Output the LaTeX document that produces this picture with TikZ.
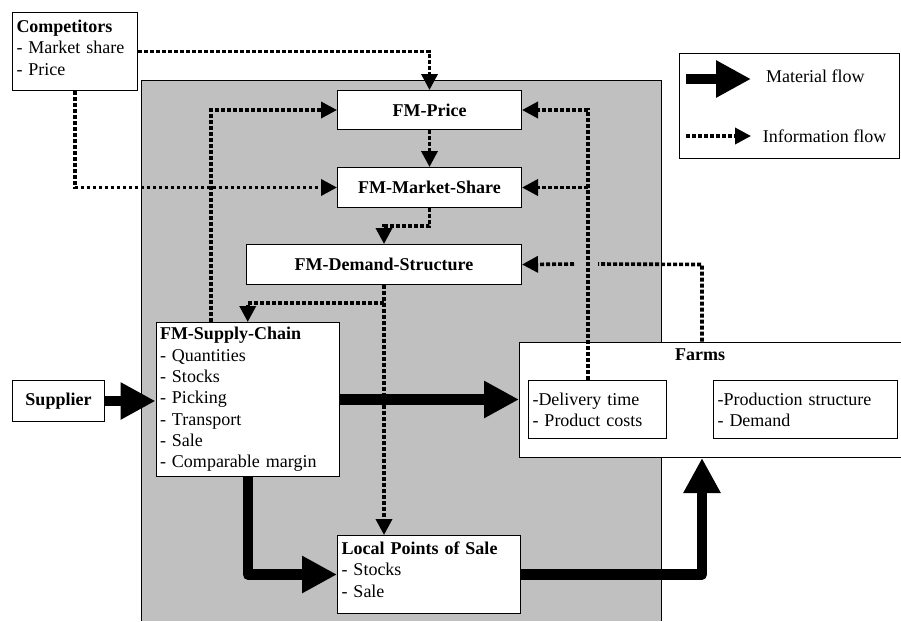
\documentclass[tikz,border=0pt]{standalone}
\usepackage{fontspec}
\setmainfont{Liberation Serif}
\usetikzlibrary{arrows.meta}
\definecolor{panel}{RGB}{192,192,192}
\begin{document}
\begin{tikzpicture}[x=1pt,y=-1pt,
  every node/.style={font=\fontsize{18}{21.3}\selectfont},
  frame/.style={draw, line width=1pt, fill=white, anchor=north west, inner sep=0pt},
  listbox/.style={frame, align=left, inner xsep=4pt, inner ysep=0pt},
  titlebox/.style={frame, font=\fontsize{18}{21.3}\selectfont\bfseries},
  matflow/.style={line width=10.5pt, line join=round, -{Triangle[length=35pt,width=35pt]}},
  infoline/.style={line width=3.6pt, dash pattern=on 3.8pt off 2.2pt},
  infoflow/.style={infoline, -{Triangle[length=16pt,width=16pt]}},
]
\useasboundingbox (0,0) rectangle (901,621);

% shaded company panel (open at the bottom)
\fill[panel] (141.7,80.7) rectangle (661.7,621);
\draw[line width=1pt] (141.7,621) -- (141.7,80.7) -- (661.7,80.7) -- (661.7,621);

% boxes
\node[listbox, text width=117pt, minimum height=78pt] (comp) at (12,12)
  {\textbf{Competitors}\\- Market share\\- Price\rule[-8pt]{0pt}{8pt}};
\node[titlebox, minimum width=184pt, minimum height=39pt] (price) at (337,90) {FM-Price};
\node[titlebox, minimum width=184pt, minimum height=40pt] (mshare) at (337,167) {FM-Market-Share};
\node[titlebox, minimum width=275pt, minimum height=40pt] (demand) at (246,244) {FM-Demand-Structure};
\node[listbox, text width=175.5pt, minimum height=154pt] (supply) at (155.5,322)
  {\textbf{FM-Supply-Chain}\\- Quantities\\- Stocks\\- Picking\\- Transport\\- Sale\\- Comparable margin};
\node[titlebox, minimum width=92pt, minimum height=41pt] (supplier) at (12,380) {Supplier};
\node[listbox, text width=175pt, minimum height=78pt] (lps) at (337,535)
  {\textbf{Local Points of Sale}\\- Stocks\\- Sale\rule[-10pt]{0pt}{10pt}};
\node[frame, minimum width=383pt, minimum height=115.5pt] (farms) at (519,341.5) {};
\node[font=\fontsize{18}{21.3}\selectfont\bfseries] (farmstitle) at (700,355) {Farms};
\node[listbox, text width=130pt, minimum height=58pt] (deliv) at (528,380)
  {-Delivery time\\- Product costs};
\node[listbox, text width=176pt, minimum height=58pt] (prod) at (713,380)
  {-Production structure\\- Demand};

% legend
\node[frame, minimum width=220pt, minimum height=105pt] (legend) at (679,53) {};
\coordinate (mfa) at (686,79);
\coordinate (mfb) at (751,79);
\coordinate (ifa) at (686,136);
\coordinate (ifb) at (751,136);
\draw[matflow] (mfa) -- (mfb);
\draw[infoflow] (ifa) -- (ifb);
\node[anchor=west, inner sep=0pt] (mflabel) at (766,76) {Material flow};
\node[anchor=west, inner sep=0pt] (iflabel) at (762.7,136) {Information flow};

% material flows
\coordinate (lpsout) at ([xshift=183pt]farms.south west);
\draw[matflow] (supplier.east) -- (supplier.east -| supply.west);
\draw[matflow] (supply.east) -- (supply.east -| farms.west);
\draw[matflow] (supply.south) |- (lps.west);
\draw[matflow] (lps.east) -| (lpsout);

% information flows
\coordinate (sctap) at ([xshift=55.5pt]supply.north west);
\coordinate (dltap) at ([xshift=60pt]deliv.north west);
\coordinate (fmtap) at ([xshift=183pt]farms.north west);
\coordinate (gapR) at (598,264);
\coordinate (gapL) at (574,264);
\draw[infoflow] (comp.east) -- (comp.east -| price.north) -- (price.north);
\draw[infoflow] (comp.south) -- (comp.south |- mshare.west) -- (mshare.west);
\draw[infoflow] (sctap) -- (sctap |- price.west) -- (price.west);
\draw[infoflow] (price.south) -- (mshare.north);
\draw[infoflow] (dltap) -- (dltap |- price.east) -- (price.east);
\draw[infoflow] (dltap |- mshare.east) -- (mshare.east);
\draw[infoflow] (mshare.south) -- ++(0,18) -| (demand.north);
\draw[infoline] (fmtap) -- (fmtap |- demand.east) -- (gapR);
\draw[infoflow] (gapL) -- (demand.east);
\draw[infoflow] (demand.south) -- ++(0,18) -| (supply.north);
\draw[infoflow] (demand.south) -- (demand.south |- lps.north);
\end{tikzpicture}
\end{document}
